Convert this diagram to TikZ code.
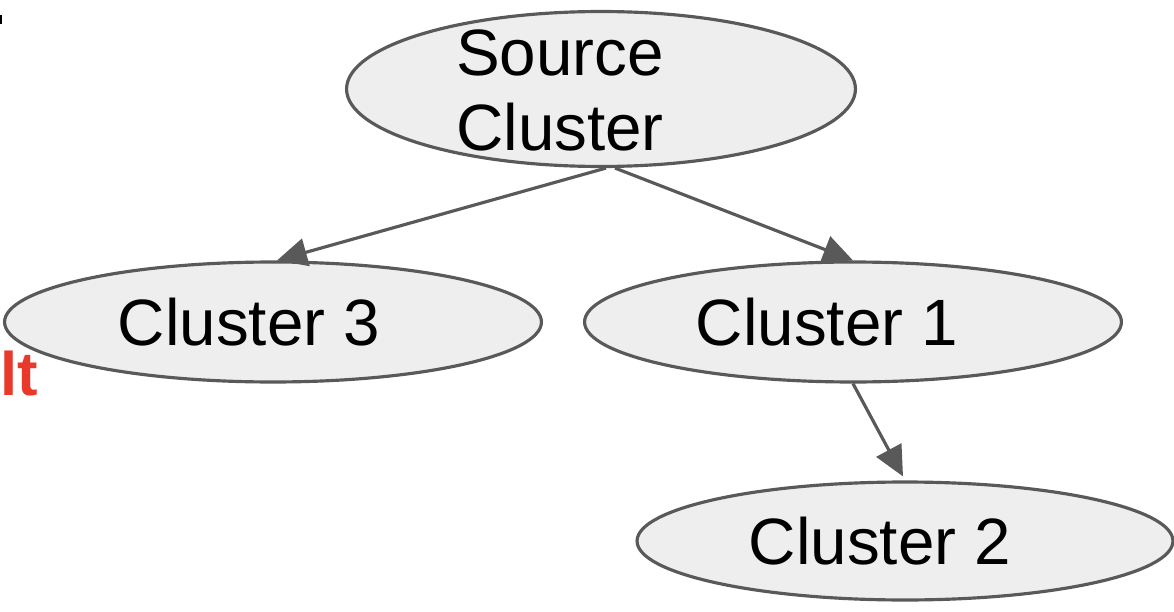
\documentclass[tikz,border=0pt]{standalone}
\usepackage{fontspec}
\setmainfont{Liberation Sans}
\usetikzlibrary{shapes.geometric,arrows.meta}
\definecolor{edgegray}{HTML}{595959}
\definecolor{nodegray}{HTML}{EEEEEE}
\definecolor{cutred}{HTML}{E8392A}
\tikzset{
	cluster/.style={ellipse, draw=edgegray, fill=nodegray, line width=1.8pt, inner sep=0pt},
	lbl/.style={font=\fontsize{37.3}{43}\selectfont, align=center, inner sep=0pt},
	link/.style={draw=edgegray, line width=1.8pt, -{Triangle[length=0.6cm,width=0.56cm]}}
}
\begin{document}
\begin{tikzpicture}[x=0.02cm, y=-0.02cm]
	\useasboundingbox (0,0) rectangle (1174,612);
	\node (src) at (601,89) [cluster, minimum width=10.18cm, minimum height=3.1cm,
		label={[lbl,xshift=-0.82cm,yshift=-0.03cm]center:Source\\Cluster}] {};
	\node (c3) at (273,322) [cluster, minimum width=10.74cm, minimum height=2.4cm,
		label={[lbl,xshift=-0.48cm]center:Cluster 3}] {};
	\node (c1) at (853,322) [cluster, minimum width=10.74cm, minimum height=2.4cm,
		label={[lbl,xshift=-0.52cm]center:Cluster 1}] {};
	\node (c2) at (905,541) [cluster, minimum width=10.72cm, minimum height=2.36cm,
		label={[lbl,xshift=-0.5cm]center:Cluster 2}] {};
	\node (cut) at (0,395) [anchor=base west, inner sep=0pt, text=cutred,
		font=\fontsize{35}{40}\selectfont\bfseries] {lt};
	\coordinate (dot) at (0,15);
	\fill (dot) rectangle ++(2,9);
	\draw[link] ([xshift=0.1cm]src.south) -- ([xshift=0.08cm]c3.north);
	\draw[link] ([xshift=0.28cm]src.south) -- (c1.north);
	\draw[link] (c1.south) -- ([xshift=-0.04cm,yshift=0.08cm]c2.north);
\end{tikzpicture}
\end{document}
